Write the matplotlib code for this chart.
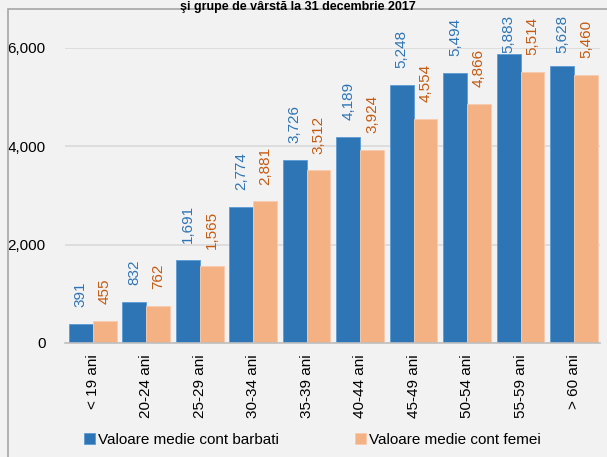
import matplotlib
matplotlib.use("Agg")
import matplotlib.pyplot as plt
import numpy as np
from matplotlib.patches import Rectangle

# Data

categories = ["< 19 ani", "20-24 ani", "25-29 ani", "30-34 ani", "35-39 ani",
              "40-44 ani", "45-49 ani", "50-54 ani", "55-59 ani", "> 60 ani"]
barbati = [391, 832, 1691, 2774, 3726, 4189, 5248, 5494, 5883, 5628]
femei = [455, 762, 1565, 2881, 3512, 3924, 4554, 4866, 5514, 5460]
yticks = [0, 2000, 4000, 6000]

plt.rcParams['font.family'] = ['Liberation Sans', 'DejaVu Sans']

blue = "#2e75b6"
orange = "#f4b183"
orange_txt = "#c55a11"
bg = "#f2f2f2"

fig = plt.figure(figsize=(6.07, 4.57), dpi=100, facecolor=bg)
ax = fig.add_axes([0.107, 0.2495, 0.881, 0.6455], facecolor=bg)

x = np.arange(len(categories))
w = 0.445
b1 = ax.bar(x - w / 2, barbati, w, color=blue, edgecolor="#5b9bd5", linewidth=0.6)
b2 = ax.bar(x + w / 2, femei, w, color=orange, edgecolor="#f8cbad", linewidth=0.6)

# value labels (outside end, kept inside the chart top like Excel does)
def label_pos(v):
    return min(v + 340, 5900)

for xi, v in zip(x, barbati):
    ax.text(xi - w / 2, label_pos(v), f"{v:,}", rotation=90, ha="center", va="bottom",
            color=blue, fontsize=11, clip_on=False)
for xi, v in zip(x, femei):
    ax.text(xi + w / 2, label_pos(v), f"{v:,}", rotation=90, ha="center", va="bottom",
            color=orange_txt, fontsize=11, clip_on=False)

ax.set_ylim(0, 6000)
ax.set_xlim(-0.52, len(categories) - 0.52)
ax.set_yticks(yticks)
ax.set_yticklabels([f"{t:,}" for t in yticks], fontsize=11)
ax.yaxis.grid(True, color="#d9d9d9", linewidth=1.2)
ax.set_axisbelow(True)
ax.set_xticks(x)
ax.set_xticklabels(categories, rotation=90, fontsize=11)
ax.tick_params(length=0, pad=8)
ax.tick_params(axis="y", pad=14)
for s in ["top", "right", "left"]:
    ax.spines[s].set_visible(False)
ax.spines["bottom"].set_color("#bfbfbf")
ax.spines["bottom"].set_linewidth(1.2)

# legend
fig.legend([b1, b2], ["Valoare medie cont barbati", "Valoare medie cont femei"],
           loc="center left", bbox_to_anchor=(84 / 607, 0.037), ncol=2, frameon=False,
           fontsize=11, handlelength=0.7, handleheight=0.7, handletextpad=0.2,
           columnspacing=5.0, borderpad=0, borderaxespad=0)

# chart border
fig.patches.append(Rectangle((8 / 607, -0.05), 1.0, 1 - 9 / 457 + 0.05,
                             transform=fig.transFigure, fill=False,
                             edgecolor="#a6a6a6", linewidth=1.2))

# title
fig.text(0.49, 1 - 1 / 457, "şi grupe de vârstă la 31 decembrie 2017", ha="center",
         va="top", fontsize=9, fontweight="bold", color="black")

fig.savefig("out.png", dpi=100, facecolor=bg)
